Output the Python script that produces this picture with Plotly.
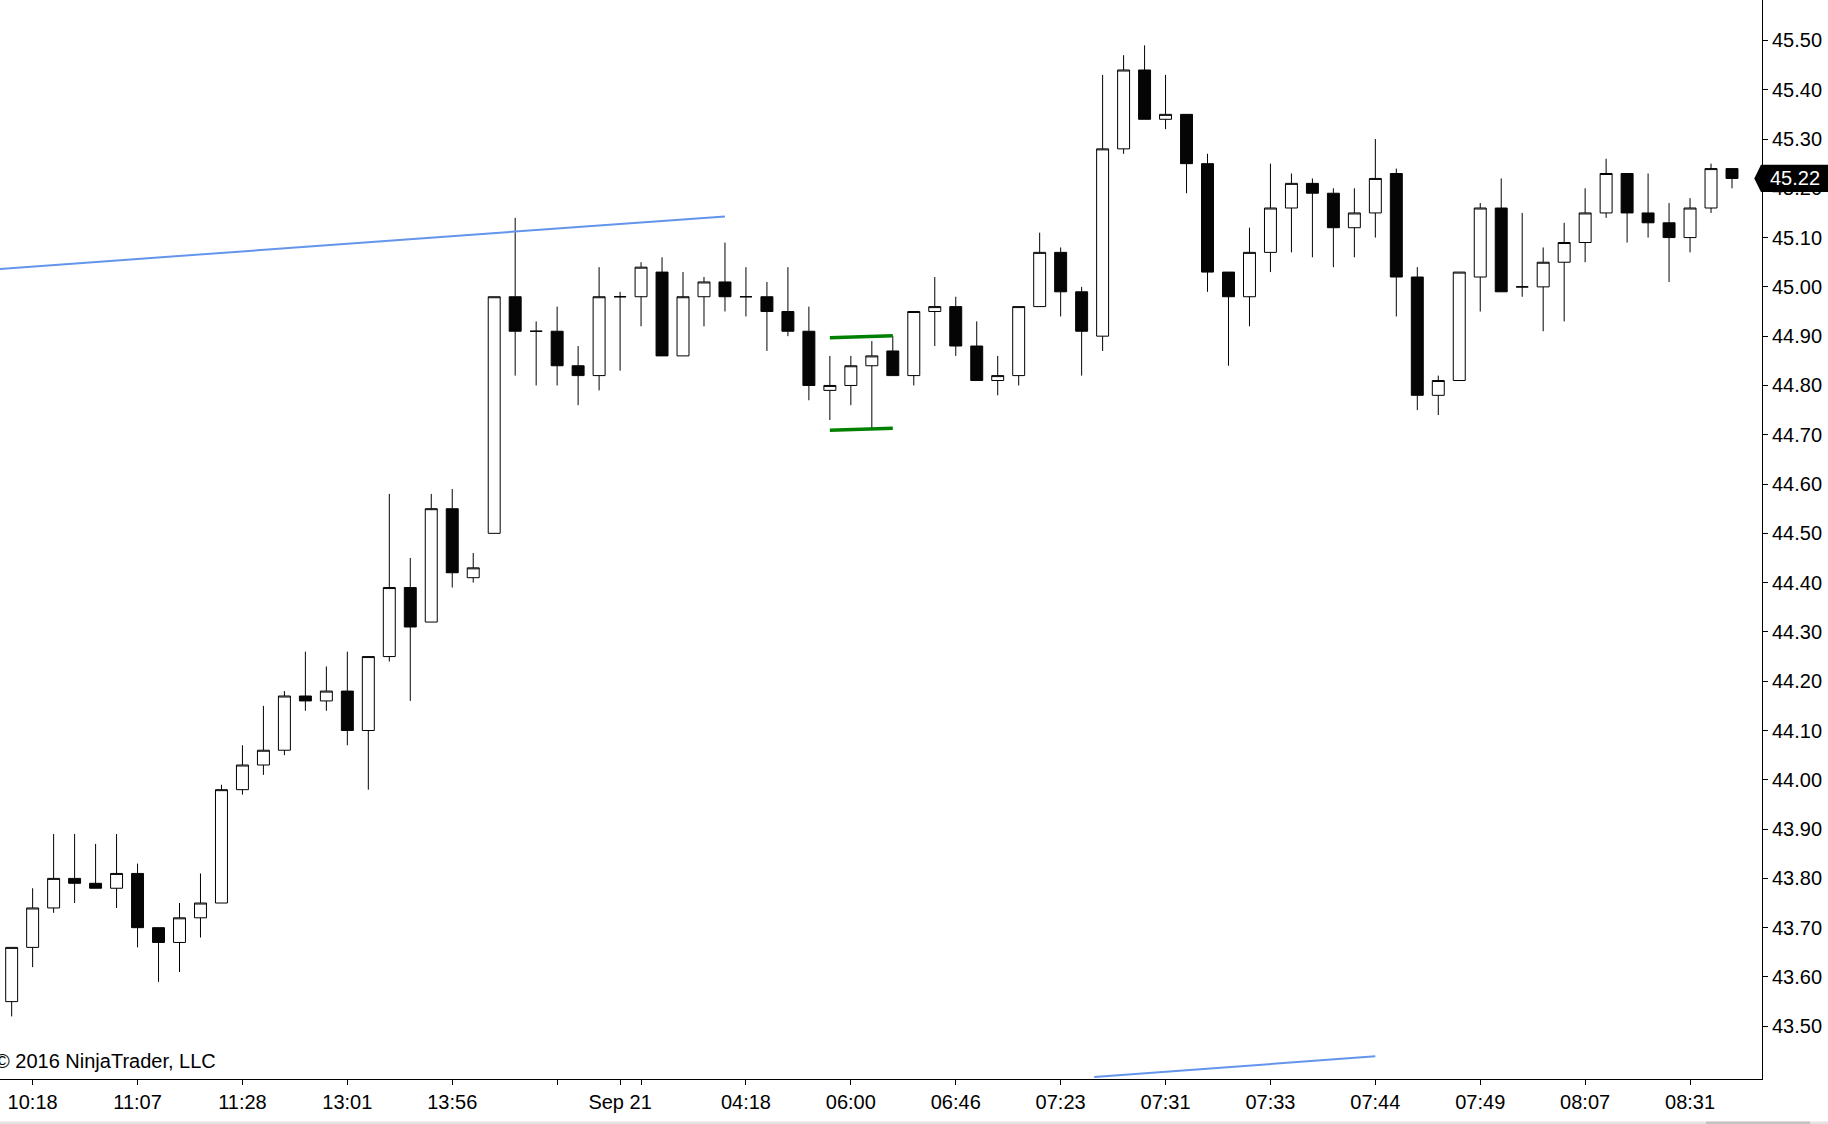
import plotly.graph_objects as go

# ---------------- data ----------------
BAR_INDEX = list(range(83))
OPEN = [43.55, 43.66, 43.74, 43.80, 43.79, 43.78, 43.81, 43.70, 43.67, 43.72,
        43.75, 43.98, 44.03, 44.06, 44.17, 44.16, 44.18, 44.10, 44.25, 44.39,
        44.32, 44.55, 44.41, 44.50, 44.98, 44.91, 44.91, 44.84, 44.82, 44.98,
        44.98, 45.03, 44.86, 44.98, 45.01, 44.98, 44.98, 44.95, 44.91, 44.79,
        44.80, 44.84, 44.87, 44.82, 44.95, 44.96, 44.88, 44.81, 44.82, 44.96,
        45.07, 44.99, 44.90, 45.28, 45.44, 45.34, 45.35, 45.25, 45.03, 44.98,
        45.07, 45.16, 45.21, 45.19, 45.12, 45.15, 45.23, 45.02, 44.78, 44.81,
        45.02, 45.16, 45.00, 45.00, 45.05, 45.09, 45.15, 45.23, 45.15, 45.13,
        45.10, 45.16, 45.24]
HIGH = [43.66, 43.78, 43.89, 43.89, 43.87, 43.89, 43.83, 43.70, 43.75, 43.81,
        43.99, 44.07, 44.15, 44.18, 44.26, 44.23, 44.26, 44.25, 44.58, 44.45,
        44.58, 44.59, 44.46, 44.98, 45.14, 44.93, 44.96, 44.88, 45.04, 44.99,
        45.05, 45.06, 45.03, 45.02, 45.09, 45.04, 45.01, 45.04, 44.96, 44.86,
        44.86, 44.89, 44.90, 44.95, 45.02, 44.98, 44.93, 44.86, 44.96, 45.11,
        45.08, 45.00, 45.43, 45.47, 45.49, 45.43, 45.35, 45.27, 45.03, 45.12,
        45.25, 45.23, 45.22, 45.20, 45.20, 45.30, 45.24, 45.04, 44.82, 45.03,
        45.17, 45.22, 45.15, 45.08, 45.13, 45.20, 45.26, 45.23, 45.23, 45.17,
        45.18, 45.25, 45.24]
LOW = [43.52, 43.62, 43.73, 43.75, 43.78, 43.74, 43.66, 43.59, 43.61, 43.68,
       43.75, 43.97, 44.01, 44.05, 44.14, 44.14, 44.07, 43.98, 44.24, 44.16,
       44.32, 44.39, 44.40, 44.50, 44.82, 44.80, 44.80, 44.76, 44.79, 44.83,
       44.92, 44.86, 44.86, 44.92, 44.95, 44.94, 44.87, 44.90, 44.77, 44.73,
       44.76, 44.71, 44.82, 44.80, 44.88, 44.86, 44.81, 44.78, 44.80, 44.96,
       44.94, 44.82, 44.87, 45.27, 45.34, 45.32, 45.19, 44.99, 44.84, 44.92,
       45.03, 45.07, 45.06, 45.04, 45.06, 45.10, 44.94, 44.75, 44.74, 44.81,
       44.95, 44.99, 44.98, 44.91, 44.93, 45.05, 45.14, 45.09, 45.10, 45.01,
       45.07, 45.15, 45.20]
CLOSE = [43.66, 43.74, 43.80, 43.79, 43.78, 43.81, 43.70, 43.67, 43.72, 43.75,
         43.98, 44.03, 44.06, 44.17, 44.16, 44.18, 44.10, 44.25, 44.39, 44.31,
         44.55, 44.42, 44.43, 44.98, 44.91, 44.91, 44.84, 44.82, 44.98, 44.98,
         45.04, 44.86, 44.98, 45.01, 44.98, 44.98, 44.95, 44.91, 44.80, 44.80,
         44.84, 44.86, 44.82, 44.95, 44.96, 44.88, 44.81, 44.82, 44.96, 45.07,
         44.99, 44.91, 45.28, 45.44, 45.34, 45.35, 45.25, 45.03, 44.98, 45.07,
         45.16, 45.21, 45.19, 45.12, 45.15, 45.22, 45.02, 44.78, 44.81, 45.03,
         45.16, 44.99, 45.00, 45.05, 45.09, 45.15, 45.23, 45.15, 45.13, 45.10,
         45.16, 45.24, 45.22]

TIME_TICK_POS = [1, 6, 11, 16, 21, 26, 29, 30, 35, 40, 45, 50, 55, 60, 65, 70, 75, 80]
TIME_TICK_TEXT = ["10:18", "11:07", "11:28", "13:01", "13:56", "", "Sep 21", "",
                  "04:18", "06:00", "06:46", "07:23", "07:31", "07:33", "07:44",
                  "07:49", "08:07", "08:31"]
PRICE_TICKS = [43.50, 43.60, 43.70, 43.80, 43.90, 44.00, 44.10, 44.20, 44.30, 44.40,
               44.50, 44.60, 44.70, 44.80, 44.90, 45.00, 45.10, 45.20, 45.30, 45.40,
               45.50]

# drawing-tool lines (bar index, price)
CHANNEL_TOP_X = [-1, 34]
CHANNEL_TOP_Y = [45.035, 45.143]
CHANNEL_BOTTOM_X = [51.6, 65]
CHANNEL_BOTTOM_Y = [43.397, 43.439]
RANGE_HIGH_X = [39, 42]
RANGE_HIGH_Y = [44.897, 44.901]
RANGE_LOW_X = [39, 42]
RANGE_LOW_Y = [44.709, 44.713]

LAST_PRICE = 45.22
COPYRIGHT = "© 2016 NinjaTrader, LLC"

# ---------------- layout constants ----------------
Y_RANGE = [43.393, 45.582]
X_RANGE = [-0.556, 83.43]
W, H = 1828, 1124
M_L, M_R, M_T, M_B = 0, 66, 0, 45
PLOT_W = W - M_L - M_R
PLOT_H = H - M_T - M_B
FONT = "Arial, 'Liberation Sans', sans-serif"


def py(price):
    return (price - Y_RANGE[0]) / (Y_RANGE[1] - Y_RANGE[0])


def px_x(pixel):
    return pixel / PLOT_W


def px_y(pixel_from_top):
    return 1 - pixel_from_top / PLOT_H


fig = go.Figure()

fig.add_trace(go.Candlestick(
    x=BAR_INDEX, open=OPEN, high=HIGH, low=LOW, close=CLOSE,
    increasing=dict(line=dict(color="black", width=1), fillcolor="white"),
    decreasing=dict(line=dict(color="#050505", width=1), fillcolor="#050505"),
    whiskerwidth=0, hoverinfo="skip", showlegend=False,
))

for xs, ys, color, width in [
    (CHANNEL_TOP_X, CHANNEL_TOP_Y, "#6495ED", 2),
    (CHANNEL_BOTTOM_X, CHANNEL_BOTTOM_Y, "#6495ED", 2),
    (RANGE_HIGH_X, RANGE_HIGH_Y, "#008000", 3.5),
    (RANGE_LOW_X, RANGE_LOW_Y, "#008000", 3.5),
]:
    fig.add_trace(go.Scatter(x=xs, y=ys, mode="lines",
                             line=dict(color=color, width=width),
                             hoverinfo="skip", showlegend=False))

# last price marker on the price axis
half = 13.6 / PLOT_H
yc = py(LAST_PRICE)
path = (f"M {px_x(1754.3)},{yc} L {px_x(1761)},{yc + half} L {px_x(1840)},{yc + half} "
        f"L {px_x(1840)},{yc - half} L {px_x(1761)},{yc - half} Z")
shapes = [
    dict(type="path", xref="paper", yref="paper", path=path,
         fillcolor="black", line=dict(width=0), layer="above"),
    # scrollbar strip at the bottom
    dict(type="rect", xref="paper", yref="paper", x0=0, x1=px_x(W), y0=px_y(1121.5),
         y1=px_y(1125), fillcolor="#e3e3e3", line=dict(width=0)),
    dict(type="rect", xref="paper", yref="paper", x0=px_x(1706), x1=px_x(1810),
         y0=px_y(1121.5), y1=px_y(1125), fillcolor="#c3c3c3", line=dict(width=0)),
]

annotations = [
    dict(text=str(f"{LAST_PRICE:.2f}"), xref="paper", yref="y", x=px_x(1795.5),
         y=LAST_PRICE, xanchor="center", yanchor="middle", showarrow=False,
         font=dict(family=FONT, size=20, color="white")),
    dict(text=COPYRIGHT, xref="paper", yref="paper", x=px_x(218), y=px_y(1060.7),
         xanchor="right", yanchor="middle", showarrow=False,
         font=dict(family=FONT, size=20, color="black")),
]

fig.update_layout(
    width=W, height=H,
    margin=dict(l=M_L, r=M_R, t=M_T, b=M_B, pad=0),
    paper_bgcolor="white", plot_bgcolor="white",
    boxgap=0.43, boxgroupgap=0,
    showlegend=False,
    shapes=shapes,
    annotations=annotations,
    font=dict(family=FONT, size=20, color="black"),
    xaxis=dict(range=X_RANGE, rangeslider=dict(visible=False),
               tickmode="array", tickvals=TIME_TICK_POS, ticktext=TIME_TICK_TEXT,
               ticks="outside", ticklen=5, tickwidth=1, tickcolor="black",
               showline=True, linecolor="black", linewidth=1,
               showgrid=False, zeroline=False, fixedrange=True,
               tickfont=dict(family=FONT, size=20, color="black")),
    yaxis=dict(range=Y_RANGE, side="right",
               tickmode="array", tickvals=PRICE_TICKS,
               ticktext=[f"{v:.2f}" for v in PRICE_TICKS],
               ticks="outside", ticklen=5, tickwidth=1, tickcolor="black",
               showline=True, linecolor="black", linewidth=1,
               showgrid=False, zeroline=False, fixedrange=True,
               tickfont=dict(family=FONT, size=20, color="black")),
)

fig.write_html("out.html", config={"displayModeBar": False},
               post_script="document.body.style.margin='0';document.body.style.overflow='hidden';")
